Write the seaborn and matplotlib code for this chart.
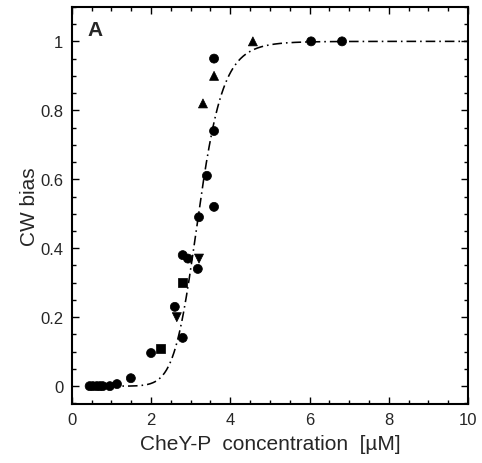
import numpy as np
import pandas as pd
import matplotlib
matplotlib.use("Agg")
import matplotlib.pyplot as plt
from matplotlib.ticker import MultipleLocator, FuncFormatter
import seaborn as sns

# measured points, grouped by marker kind
circle_x = [0.45, 0.53, 0.63, 0.71, 0.78, 0.96, 1.14, 1.49, 2.0, 2.60, 2.80, 2.80, 2.93,
            3.18, 3.21, 3.41, 3.59, 3.59, 3.59, 6.04, 6.82]
circle_y = [0.0, 0.0, 0.0, 0.0, 0.0, 0.0, 0.006, 0.023, 0.096, 0.23, 0.14, 0.38, 0.37,
            0.34, 0.49, 0.61, 0.52, 0.74, 0.95, 1.0, 1.0]
tri_up_x = [3.31, 3.59, 4.57]
tri_up_y = [0.82, 0.90, 1.0]
tri_down_x = [2.65, 3.21]
tri_down_y = [0.20, 0.37]
square_x = [2.25, 2.80]
square_y = [0.11, 0.30]

# Hill fit parameters
K = 3.2
hill_n = 10.3

df = pd.concat([
    pd.DataFrame({"conc": circle_x, "bias": circle_y, "kind": "circle"}),
    pd.DataFrame({"conc": tri_up_x, "bias": tri_up_y, "kind": "up"}),
    pd.DataFrame({"conc": tri_down_x, "bias": tri_down_y, "kind": "down"}),
    pd.DataFrame({"conc": square_x, "bias": square_y, "kind": "square"}),
], ignore_index=True)

conc = np.linspace(0.45, 10, 400)
fit = pd.DataFrame({"conc": conc, "bias": conc**hill_n / (conc**hill_n + K**hill_n)})

sns.set_style("ticks")
plt.rcParams["font.family"] = ["Liberation Sans", "DejaVu Sans"]

fig = plt.figure(figsize=(4.82, 4.64), dpi=100)
ax = fig.add_axes([0.149, 0.127, 0.822, 0.856])

sns.lineplot(data=fit, x="conc", y="bias", ax=ax, color="black", lw=1.15,
             dashes=False, zorder=1)
ax.lines[-1].set_dashes([6, 2.5, 1, 2.5])

sns.scatterplot(data=df, x="conc", y="bias", style="kind", ax=ax,
                markers={"circle": "o", "up": "^", "down": "v", "square": "s"},
                color="black", s=42, edgecolor="black", legend=False, zorder=2)

ax.set_xlim(0, 10)
ax.set_ylim(-0.052, 1.1)
ax.xaxis.set_major_locator(MultipleLocator(2))
ax.xaxis.set_minor_locator(MultipleLocator(0.5))
ax.yaxis.set_major_locator(MultipleLocator(0.2))
ax.yaxis.set_minor_locator(MultipleLocator(0.05))
ax.yaxis.set_major_formatter(FuncFormatter(lambda v, p: "%g" % round(v, 2)))
ax.tick_params(which="both", direction="in", top=True, right=True, labelsize=12,
               width=1.0, color="black")
ax.tick_params(which="major", length=5, pad=6)
ax.tick_params(which="minor", length=3)
for sp in ax.spines.values():
    sp.set_linewidth(1.5)
    sp.set_color("black")

ax.set_xlabel("CheY-P  concentration  [\u00b5M]", fontsize=15, labelpad=5)
ax.set_ylabel("CW bias", fontsize=15, labelpad=1)
ax.text(0.4, 1.035, "A", fontsize=15, fontweight="bold", va="center")

fig.savefig("out.png", dpi=100)
